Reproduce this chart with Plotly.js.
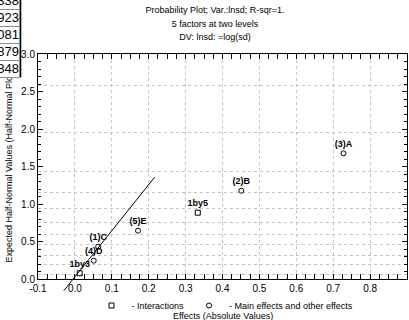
<!DOCTYPE html>
<html>
<head>
<meta charset="utf-8">
<script src="https://cdn.plot.ly/plotly-3.0.1.min.js"></script>
<style>html,body{margin:0;padding:0;background:#fff;}#chart{width:409px;height:320px;}</style>
</head>
<body>
<div id="chart"></div>
<script>
// ---- data ----
const interactionLabels = ['1by3', '1by5'];
const interactionEffects = [0.013, 0.333];
const interactionExpected = [0.076, 0.884];

const mainLabels = ['(4)D', '(1)C', '(5)E', '(2)B', '(3)A'];
const mainEffects = [0.051, 0.063, 0.171, 0.451, 0.728];
const mainExpected = [0.244, 0.431, 0.644, 1.177, 1.676];

const fitLineX = [-0.030, 0.216];
const fitLineY = [-0.156, 1.356];

const xTickVals = [-0.1, 0.0, 0.1, 0.2, 0.3, 0.4, 0.5, 0.6, 0.7, 0.8, 0.9];
const xTickText = ['-0.1', '0.0', '0.1', '0.2', '0.3', '0.4', '0.5', '0.6', '0.7', '0.8', '0.9'];
const yTickVals = [0.0, 0.5, 1.0, 1.5, 2.0, 2.5, 3.0];
const yTickText = ['0.0', '0.5', '1.0', '1.5', '2.0', '2.5', '3.0'];

const probGridText = ['.05', '.15', '.25', '.35', '.45', '.55', '.65', '.75', '.85', '.95', '.99'];
const probGridVals = [0.063, 0.189, 0.319, 0.454, 0.598, 0.755, 0.935, 1.150, 1.440, 1.960, 2.576];

const tableCells = ['338', '923', '081', '879', '848'];
const titleLines = ['Probability Plot; Var.:lnsd; R-sqr=1.', '5 factors at two levels', 'DV: lnsd: =log(sd)'];
const xTitle = 'Effects (Absolute Values)';
const yTitle = 'Expected Half-Normal Values (Half-Normal Plot)';

// ---- geometry ----
const W = 409, H = 320;
const M = {l: 37.5, r: 1.5, t: 54, b: 29};
const plotBottomPx = 279;
const paperH = H - M.t - M.b;
const paperW = W - M.l - M.r;
const d = (H - M.b - plotBottomPx) / paperH;
const yLow = -3 * d / (1 - d);
const px2x = p => (p - M.l) / paperW;
const px2y = p => (H - M.b - p) / paperH;

const FONT = 'Liberation Sans, Arial, sans-serif';
const grid = '#c4c4c4';

const traces = [
  {
    x: interactionEffects, y: interactionExpected, text: interactionLabels,
    type: 'scatter', mode: 'markers+text', name: '- Interactions',
    textposition: 'top center', cliponaxis: false,
    textfont: {family: FONT, size: 9, color: '#000', weight: 'bold'},
    marker: {symbol: 'square-open', size: 5, color: '#000', line: {width: 1, color: '#000'}},
    xaxis: 'x', yaxis: 'y'
  },
  {
    x: mainEffects, y: mainExpected, text: mainLabels,
    type: 'scatter', mode: 'markers+text', name: '- Main effects and other effects',
    textposition: 'top center', cliponaxis: false,
    textfont: {family: FONT, size: 9, color: '#000', weight: 'bold'},
    marker: {symbol: 'circle-open', size: 5, color: '#000', line: {width: 1, color: '#000'}},
    xaxis: 'x', yaxis: 'y2'
  },
  {
    x: fitLineX, y: fitLineY, type: 'scatter', mode: 'lines', showlegend: false,
    line: {color: '#000', width: 1}, xaxis: 'x3', yaxis: 'y3', hoverinfo: 'skip'
  }
];

const rowCenter = i => 1.5 + i * 16.8;
const annotations = tableCells.map((t, i) => ({
  xref: 'paper', yref: 'paper', x: px2x(19), y: px2y(rowCenter(i)),
  xanchor: 'right', yanchor: 'middle', text: t, showarrow: false,
  align: 'right', width: 40, height: 15.8, bgcolor: '#fff',
  bordercolor: '#8c8c8c', borderwidth: 1, borderpad: 0,
  font: {family: FONT, size: 13, color: '#000'}
}));
// x-axis title (placed as text below the legend, as in the reference)
annotations.push({
  xref: 'paper', yref: 'paper', x: px2x(223), y: px2y(315.5),
  xanchor: 'center', yanchor: 'middle', text: xTitle, showarrow: false,
  font: {family: FONT, size: 9, color: '#000'}
});

const shapes = [
  {type: 'line', xref: 'paper', yref: 'paper', x0: px2x(20), x1: px2x(20), y0: px2y(-2), y1: px2y(76.5), line: {color: '#000', width: 1.5}},
  {type: 'line', xref: 'paper', yref: 'paper', x0: px2x(-2), x1: px2x(20.7), y0: px2y(76.5), y1: px2y(76.5), line: {color: '#000', width: 1.5}}
];

const layout = {
  width: W, height: H,
  margin: M,
  paper_bgcolor: '#fff', plot_bgcolor: 'rgba(0,0,0,0)',
  font: {family: FONT, size: 10, color: '#000'},
  title: {
    text: titleLines.map(s => '<span style="font-size:9px">' + s + '</span>').join('<br>'),
    font: {family: FONT, size: 10.4, color: '#000'},
    xref: 'container', x: 215 / W, xanchor: 'center',
    yref: 'container', y: 1 - 13 / H, yanchor: 'top'
  },
  showlegend: true,
  legend: {
    orientation: 'h', xref: 'paper', x: px2x(225), xanchor: 'center',
    yref: 'container', y: 1 - 291 / H, yanchor: 'top',
    font: {family: FONT, size: 9, color: '#000'},
    itemwidth: 30, bgcolor: 'rgba(0,0,0,0)', borderwidth: 0
  },
  xaxis: {
    domain: [0, 1], anchor: 'y', range: [-0.1, 0.9],
    tickvals: xTickVals, ticktext: xTickText,
    ticks: 'inside', ticklen: 5, tickcolor: '#000', tickwidth: 1,
    minor: {dtick: 0.025, ticks: 'inside', ticklen: 3, tickcolor: '#000', showgrid: false},
    showline: true, linecolor: '#000', linewidth: 1, mirror: 'allticks',
    showgrid: true, gridcolor: grid, griddash: 'dot', gridwidth: 1,
    zeroline: false, tickfont: {family: FONT, size: 10, color: '#000'},
    automargin: false
  },
  yaxis: {
    domain: [d, 1], anchor: 'x', range: [0, 3],
    tickvals: yTickVals, ticktext: yTickText,
    ticks: 'inside', ticklen: 5, tickcolor: '#000', tickwidth: 1,
    minor: {dtick: 0.1, ticks: 'inside', ticklen: 3, tickcolor: '#000', showgrid: false},
    showline: true, linecolor: '#000', linewidth: 1, mirror: 'allticks',
    showgrid: false, zeroline: false,
    tickfont: {family: FONT, size: 10, color: '#000'},
    title: {text: yTitle, font: {family: FONT, size: 9, color: '#000'}, standoff: 6},
    automargin: false
  },
  yaxis2: {
    overlaying: 'y', side: 'right', anchor: 'x', range: [0, 3],
    tickvals: probGridVals, ticktext: probGridText, showticklabels: false,
    ticks: '', showline: false, zeroline: false,
    showgrid: true, gridcolor: grid, griddash: 'dot', gridwidth: 1
  },
  xaxis3: {domain: [0, 1], anchor: 'y3', range: [-0.1, 0.9], visible: false, fixedrange: true},
  yaxis3: {domain: [0, 1], anchor: 'x3', range: [yLow, 3], visible: false, fixedrange: true},
  annotations: annotations,
  shapes: shapes
};

Plotly.newPlot('chart', traces, layout, {staticPlot: true, displayModeBar: false});
</script>
</body>
</html>
